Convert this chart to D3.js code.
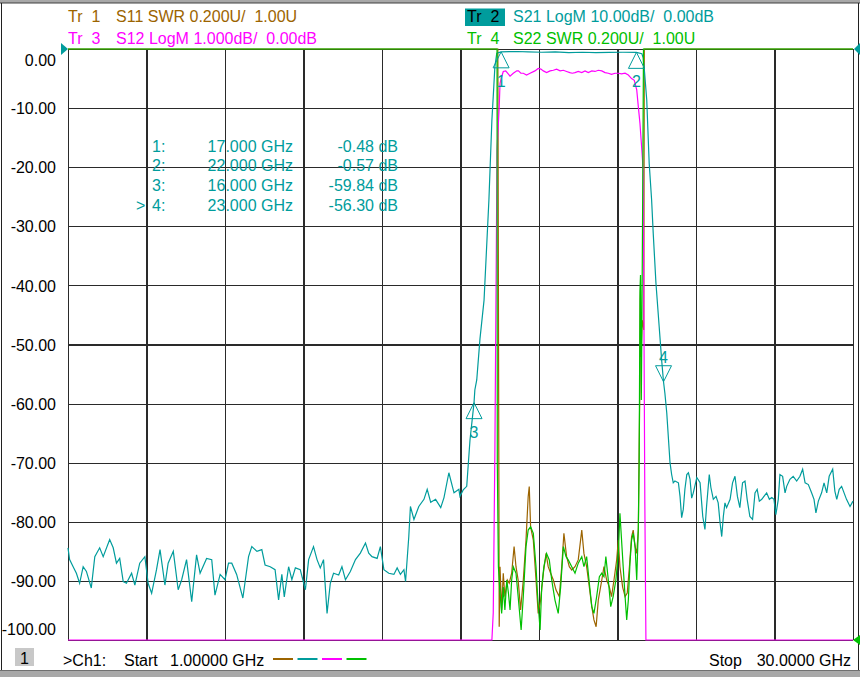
<!DOCTYPE html>
<html>
<head>
<meta charset="utf-8">
<script src="https://cdn.jsdelivr.net/npm/d3@7"></script>
<style>
  body { margin: 0; background: #fff; }
  svg text { font-family: "Liberation Sans", Arial, sans-serif; font-size: 16px; white-space: pre; }
</style>
</head>
<body>
<svg id="chart" width="860" height="677"></svg>
<script>
// sweep: 1 GHz .. 30 GHz, 10 divisions
var xTicks = [1, 3.9, 6.8, 9.7, 12.6, 15.5, 18.4, 21.3, 24.2, 27.1, 30];
var yTicks = [0, -10, -20, -30, -40, -50, -60, -70, -80, -90, -100];

// Tr 2, S21 LogM [GHz, dB]
var s21 = [
  [1.00,-84.4],[1.06,-86.4],[1.19,-87.6],[1.31,-88.7],[1.43,-90.4],[1.56,-87.6],[1.68,-88.4],[1.86,-91.2],
  [1.99,-85.9],[2.17,-84.4],[2.30,-85.9],[2.54,-83.0],[2.67,-84.4],[2.79,-87.0],[2.91,-86.2],[3.04,-90.1],
  [3.16,-90.4],[3.35,-88.7],[3.47,-90.7],[3.65,-87.0],[3.84,-85.9],[3.96,-90.4],[4.09,-92.1],[4.27,-88.1],
  [4.40,-84.7],[4.58,-90.7],[4.70,-87.0],[4.89,-85.0],[5.07,-91.5],[5.20,-89.8],[5.38,-86.4],[5.57,-93.5],
  [5.75,-85.6],[5.88,-88.7],[6.12,-86.2],[6.31,-86.4],[6.43,-92.4],[6.62,-88.9],[6.80,-89.8],[6.93,-87.0],
  [7.05,-87.0],[7.23,-88.9],[7.46,-92.9],[7.67,-85.9],[7.79,-84.2],[7.98,-85.0],[8.16,-84.7],[8.28,-87.3],
  [8.47,-87.6],[8.65,-88.1],[8.78,-93.2],[8.90,-88.9],[8.99,-92.7],[9.15,-87.6],[9.27,-89.8],[9.40,-87.8],
  [9.58,-88.1],[9.77,-91.5],[9.89,-86.4],[10.07,-84.2],[10.20,-86.4],[10.32,-87.8],[10.44,-86.4],[10.57,-95.5],
  [10.69,-90.4],[10.81,-88.7],[11.00,-89.0],[11.12,-87.6],[11.25,-89.8],[11.43,-88.4],[11.62,-86.4],[11.80,-85.3],
  [11.99,-83.6],[12.11,-85.3],[12.23,-85.9],[12.42,-86.2],[12.54,-84.2],[12.67,-88.1],[12.85,-88.7],[13.04,-88.9],
  [13.16,-87.8],[13.28,-88.9],[13.41,-88.1],[13.47,-90.1],[13.59,-82.5],[13.65,-77.4],[13.78,-79.6],[13.96,-77.4],
  [14.15,-76.2],[14.27,-74.5],[14.40,-76.7],[14.58,-76.2],[14.77,-77.6],[14.89,-75.9],[15.07,-71.7],[15.26,-75.1],
  [15.44,-74.5],[15.48,-75.7],[15.60,-74.6],[15.73,-74.0],[15.79,-70.1],[15.85,-66.2],[15.97,-61.1],[16.00,-59.84],
  [16.03,-57.7],[16.10,-56.0],[16.22,-49.0],[16.37,-42.5],[16.55,-25.5],[16.66,-12.0],[16.71,-8.0],[16.77,-3.0],
  [16.84,-0.7],[17.00,-0.48],[17.30,-0.45],[17.60,-0.42],[18.00,-0.5],[18.50,-0.55],[19.00,-0.5],[19.50,-0.6],
  [20.00,-0.55],[20.50,-0.6],[21.00,-0.58],[21.50,-0.55],[22.00,-0.57],[22.20,-0.8],[22.25,-1.5],[22.30,-4.0],
  [22.38,-8.6],[22.47,-19.3],[22.56,-25.5],[22.62,-31.2],[22.72,-39.6],[22.84,-47.0],[22.93,-52.6],[23.00,-56.3],
  [23.05,-58.2],[23.12,-61.6],[23.24,-70.0],[23.30,-72.0],[23.36,-73.4],[23.42,-73.1],[23.55,-73.4],[23.61,-75.7],
  [23.67,-79.3],[23.73,-77.9],[23.79,-74.5],[23.86,-72.0],[23.92,-71.7],[23.98,-72.8],[24.04,-76.0],[24.10,-75.1],
  [24.23,-72.5],[24.35,-73.4],[24.45,-79.1],[24.53,-81.3],[24.59,-77.4],[24.69,-72.0],[24.75,-74.2],[24.84,-76.2],
  [24.94,-75.7],[25.02,-76.8],[25.09,-80.2],[25.15,-82.5],[25.21,-79.1],[25.27,-76.8],[25.33,-77.6],[25.46,-76.2],
  [25.55,-73.4],[25.64,-72.3],[25.73,-75.7],[25.82,-77.6],[25.92,-73.4],[26.01,-73.1],[26.09,-76.2],[26.19,-79.1],
  [26.29,-79.6],[26.38,-75.1],[26.46,-74.5],[26.54,-76.5],[26.63,-76.2],[26.71,-75.7],[26.81,-75.1],[26.91,-76.2],
  [27.00,-75.9],[27.08,-76.2],[27.15,-78.8],[27.24,-76.2],[27.30,-72.0],[27.40,-72.3],[27.49,-75.1],[27.55,-74.0],
  [27.67,-72.8],[27.79,-72.3],[27.92,-73.1],[28.04,-72.3],[28.14,-71.1],[28.23,-73.4],[28.35,-73.7],[28.47,-75.1],
  [28.56,-76.2],[28.63,-78.5],[28.72,-76.5],[28.84,-75.1],[28.93,-73.4],[29.03,-75.1],[29.12,-72.3],[29.25,-71.1],
  [29.33,-74.8],[29.40,-76.2],[29.49,-74.5],[29.58,-74.0],[29.67,-75.1],[29.76,-76.2],[29.89,-77.4],[30.00,-76.5]
];

// Tr 3, S12 LogM 1 dB/div [GHz, dB]
var s12 = [
  [1.00,-15],[16.66,-15],[16.71,-9.54],[16.77,-6.82],[16.85,-1.7],[16.93,-0.98],[16.96,-0.58],[17.02,-0.47],
  [17.08,-0.38],[17.17,-0.37],[17.24,-0.41],[17.33,-0.46],[17.45,-0.41],[17.58,-0.37],[17.64,-0.37],[17.73,-0.41],
  [17.82,-0.41],[17.94,-0.44],[18.07,-0.41],[18.25,-0.37],[18.37,-0.33],[18.47,-0.34],[18.56,-0.37],[18.68,-0.40],
  [18.81,-0.37],[18.93,-0.36],[19.05,-0.34],[19.18,-0.37],[19.30,-0.36],[19.42,-0.38],[19.54,-0.40],[19.63,-0.41],
  [19.73,-0.40],[19.85,-0.38],[19.98,-0.40],[20.10,-0.37],[20.22,-0.40],[20.35,-0.37],[20.47,-0.38],[20.59,-0.36],
  [20.72,-0.37],[20.84,-0.40],[20.96,-0.41],[21.08,-0.43],[21.21,-0.41],[21.33,-0.41],[21.45,-0.42],[21.58,-0.41],
  [21.70,-0.44],[21.82,-0.50],[21.92,-0.53],[22.01,-0.69],[22.07,-0.98],[22.13,-1.26],[22.19,-1.65],[22.25,-2.05],
  [22.31,-7.7],[22.35,-15],[30.00,-15]
];

// Tr 1, S11 SWR [GHz, U]
var s11 = [
  [1.00,5],[16.88,5],[16.93,1.045],[16.96,1.248],[17.02,1.102],[17.08,1.226],[17.14,1.147],[17.23,1.203],
  [17.30,1.192],[17.39,1.226],[17.48,1.316],[17.55,1.248],[17.63,1.203],[17.72,1.102],[17.82,1.203],[17.92,1.338],
  [18.00,1.485],[18.04,1.519],[18.09,1.383],[18.19,1.338],[18.29,1.203],[18.37,1.090],[18.46,1.135],[18.56,1.226],
  [18.66,1.293],[18.74,1.248],[18.83,1.226],[18.93,1.203],[19.03,1.169],[19.15,1.147],[19.24,1.248],[19.32,1.361],
  [19.42,1.282],[19.52,1.248],[19.61,1.237],[19.73,1.248],[19.85,1.271],[19.98,1.372],[20.06,1.293],[20.16,1.248],
  [20.26,1.179],[20.35,1.113],[20.43,1.068],[20.51,1.045],[20.59,1.135],[20.72,1.203],[20.80,1.248],[20.90,1.203],
  [21.00,1.179],[21.08,1.147],[21.17,1.203],[21.27,1.271],[21.33,1.338],[21.39,1.248],[21.49,1.179],[21.58,1.147],
  [21.66,1.159],[21.74,1.248],[21.82,1.349],[21.88,1.372],[21.95,1.316],[22.01,1.293],[22.07,1.372],[22.10,1.654],
  [22.13,1.880],[22.14,2.151],[22.15,2.184],[22.17,1.958],[22.21,2.083],[22.27,2.049],[22.29,5],[30.00,5]
];

// Tr 4, S22 SWR [GHz, U]
var s22 = [
  [1.00,5],[16.85,5],[16.86,1.598],[16.90,1.248],[16.96,1.159],[17.02,1.090],[17.08,1.179],[17.14,1.102],
  [17.21,1.203],[17.27,1.159],[17.33,1.102],[17.39,1.203],[17.45,1.248],[17.55,1.226],[17.63,1.147],[17.74,1.034],
  [17.82,1.147],[17.92,1.316],[18.00,1.372],[18.09,1.383],[18.19,1.361],[18.29,1.248],[18.35,1.147],[18.44,1.034],
  [18.50,1.179],[18.58,1.248],[18.68,1.293],[18.78,1.271],[18.87,1.203],[18.99,1.135],[19.11,1.090],[19.20,1.179],
  [19.30,1.316],[19.40,1.282],[19.48,1.271],[19.61,1.248],[19.73,1.226],[19.85,1.260],[19.98,1.282],[20.06,1.248],
  [20.16,1.282],[20.26,1.192],[20.35,1.113],[20.43,1.090],[20.53,1.147],[20.63,1.214],[20.72,1.226],[20.80,1.214],
  [20.87,1.282],[20.96,1.203],[21.05,1.113],[21.14,1.147],[21.24,1.203],[21.33,1.293],[21.39,1.429],[21.45,1.338],
  [21.51,1.248],[21.58,1.147],[21.64,1.068],[21.70,1.135],[21.76,1.260],[21.82,1.338],[21.88,1.361],[21.95,1.316],
  [22.01,1.203],[22.07,1.383],[22.10,1.598],[22.13,2.184],[22.15,2.235],[22.18,1.812],[22.20,2.049],[22.23,2.489],
  [22.26,5],[30.00,5]
];

// markers on Tr 2
var markerNo = [1, 2, 3, 4];
var markerFreq = [17.0, 22.0, 16.0, 23.0];
var markerDb = [-0.48, -0.57, -59.84, -56.30];
var activeMarker = 4;

var cTeal = '#009c9c', cBrown = '#9c6400', cMag = '#ff00ff', cGreen = '#00c000';

var svg = d3.select('#chart');
var plotL = 68, plotR = 853, plotT = 49, plotB = 640;

var x = d3.scaleLinear().domain([1, 30]).range([plotL, plotR]);
var yS21 = d3.scaleLinear().domain([-100, 0]).range([plotB, plotT]).clamp(true);
var yS12 = d3.scaleLinear().domain([-10, 0]).range([plotB, plotT]).clamp(true);
var ySwr = d3.scaleLinear().domain([1, 3]).range([plotB, plotT]).clamp(true);

// window frame
svg.append('rect').attr('x', 0).attr('y', 0).attr('width', 860).attr('height', 3).attr('fill', '#a8a8a8');
svg.append('rect').attr('x', 0).attr('y', 670).attr('width', 860).attr('height', 7).attr('fill', '#a8a8a8');
svg.append('line').attr('x1', 0).attr('x2', 860).attr('y1', 3).attr('y2', 3).attr('stroke', '#404040');
svg.append('line').attr('x1', 0).attr('x2', 860).attr('y1', 670.5).attr('y2', 670.5).attr('stroke', '#707070');
svg.append('line').attr('x1', 1.5).attr('x2', 1.5).attr('y1', 3).attr('y2', 670).attr('stroke', '#202020');
svg.append('line').attr('x1', 858.5).attr('x2', 858.5).attr('y1', 3).attr('y2', 670).attr('stroke', '#202020');

// grid
var gridX = svg.append('g').attr('transform', 'translate(0,' + plotB + ')')
  .call(d3.axisBottom(x).tickValues(xTicks).tickSize(-(plotB - plotT)).tickFormat(''));
var gridY = svg.append('g').attr('transform', 'translate(' + plotL + ',0)')
  .call(d3.axisLeft(yS21).tickValues(yTicks).tickSize(-(plotR - plotL)).tickPadding(12)
    .tickFormat(d3.format('.2f')));
svg.selectAll('.domain').remove();
svg.selectAll('.tick line').attr('stroke', '#2a2a2a').attr('stroke-width', 1.2)
  .attr('shape-rendering', 'crispEdges');
gridY.selectAll('text').attr('fill', '#000').style('font-size', '16px')
  .style('font-family', '"Liberation Sans", Arial, sans-serif')
  .text(function (d) { return d3.format('.2f')(d).replace('−', '-'); })
  .attr('dy', function (d) { return d === 0 ? '1.05em' : d === -100 ? '-0.35em' : '0.35em'; });

// traces
function trace(data, y, color) {
  svg.append('path').datum(data)
    .attr('fill', 'none').attr('stroke', color).attr('stroke-width', 1.2)
    .attr('d', d3.line().x(function (d) { return x(d[0]); }).y(function (d) { return y(d[1]); }));
}
trace(s11, ySwr, cBrown);
trace(s21, yS21, cTeal);
trace(s12, yS12, cMag);
trace(s22, ySwr, cGreen);

// reference position arrows
svg.append('path').attr('d', 'M61,43L68,49L61,55Z').attr('fill', cTeal);
svg.append('path').attr('d', 'M854,49L860,43L860,55Z').attr('fill', cTeal);
svg.append('path').attr('d', 'M853,640L860,635L860,645Z').attr('fill', cGreen);

// markers
markerNo.forEach(function (n, i) {
  var px = x(markerFreq[i]), py = yS21(markerDb[i]);
  var act = n === activeMarker;
  var h = act ? -16 : 16;
  svg.append('path')
    .attr('d', 'M' + px + ',' + py + 'L' + (px - 8) + ',' + (py + h) + 'L' + (px + 8) + ',' + (py + h) + 'Z')
    .attr('fill', 'none').attr('stroke', cTeal).attr('stroke-width', 1);
  svg.append('text').attr('x', px).attr('y', act ? py - 19 : py + 35)
    .attr('text-anchor', 'middle').attr('fill', cTeal).text(n);
});

// marker table
var fmtF = d3.format('.3f'), fmtD = d3.format('.2f');
markerNo.forEach(function (n, i) {
  var by = 151.5 + i * 19.8;
  if (n === activeMarker) svg.append('text').attr('x', 136).attr('y', by).attr('fill', cTeal).text('>');
  svg.append('text').attr('x', 152).attr('y', by).attr('fill', cTeal).text(n + ':');
  svg.append('text').attr('x', 293).attr('y', by).attr('text-anchor', 'end').attr('fill', cTeal)
    .text(fmtF(markerFreq[i]) + ' GHz');
  svg.append('text').attr('x', 398).attr('y', by).attr('text-anchor', 'end').attr('fill', cTeal)
    .text(fmtD(markerDb[i]).replace('−', '-') + ' dB');
});

// trace headers
function label(tx, ty, str, color) {
  return svg.append('text').attr('x', tx).attr('y', ty).attr('fill', color).text(str);
}
label(68, 22, 'Tr  1', cBrown);
label(116, 22, 'S11 SWR 0.200U/  1.00U', cBrown);
label(68, 44, 'Tr  3', cMag);
label(116, 44, 'S12 LogM 1.000dB/  0.00dB', cMag);
svg.append('rect').attr('x', 465).attr('y', 8.5).attr('width', 40).attr('height', 17.5).attr('fill', cTeal);
label(467, 22, 'Tr  2', '#000');
label(513, 22, 'S21 LogM 10.00dB/  0.00dB', cTeal);
label(467, 44, 'Tr  4', cGreen);
label(513, 44, 'S22 SWR 0.200U/  1.00U', cGreen);

// status line
svg.append('rect').attr('x', 15).attr('y', 648).attr('width', 19).attr('height', 18).attr('fill', '#c8c8c8');
svg.append('text').attr('x', 24.5).attr('y', 664).attr('text-anchor', 'middle').attr('fill', '#000').text('1');
label(63, 666, '>Ch1:', '#000');
label(124, 666, 'Start', '#000');
label(170, 666, '1.00000 GHz', '#000');
[cBrown, cTeal, cMag, cGreen].forEach(function (c, i) {
  svg.append('line').attr('x1', 273 + i * 24.5).attr('x2', 293 + i * 24.5).attr('y1', 659).attr('y2', 659)
    .attr('stroke', c).attr('stroke-width', 2);
});
label(709, 666, 'Stop', '#000');
svg.append('text').attr('x', 851).attr('y', 666).attr('text-anchor', 'end').attr('fill', '#000').text('30.0000 GHz');
</script>
</body>
</html>
